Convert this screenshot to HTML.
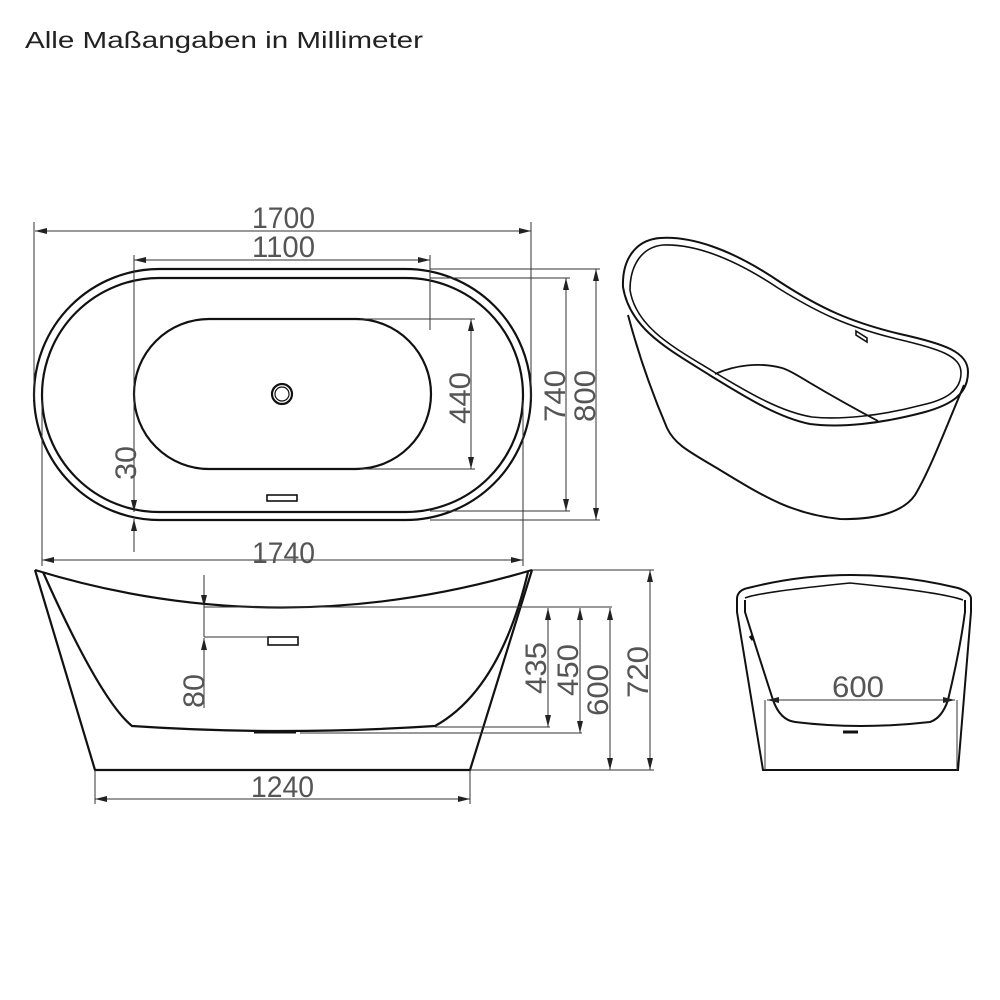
<!DOCTYPE html>
<html><head><meta charset="utf-8"><style>
html,body{margin:0;padding:0;background:#fff;}
svg{display:block;}
.d{font-family:"Liberation Sans Narrow","Liberation Sans",sans-serif;font-size:30px;fill:#555;}
</style></head><body>
<svg width="1000" height="1000" viewBox="0 0 1000 1000" xmlns="http://www.w3.org/2000/svg">
<defs>
<marker id="a" viewBox="0 0 12 6" refX="12" refY="3" markerWidth="12" markerHeight="6" markerUnits="userSpaceOnUse" orient="auto-start-reverse">
<path d="M0,0 L12,3 L0,6 Z" fill="#222"/></marker>
</defs>
<text x="25" y="48" font-family="Liberation Sans, sans-serif" font-size="23" fill="#222" textLength="398" lengthAdjust="spacingAndGlyphs">Alle Maßangaben in Millimeter</text>

<g fill="none" stroke="#111" stroke-width="2.2">
<rect x="34" y="269" width="497" height="251" rx="125.5" ry="125.5"/>
<rect x="42" y="278" width="481" height="234" rx="117" ry="117"/>
<rect x="134" y="319" width="297" height="150" rx="75" ry="75"/>
<circle cx="282" cy="394" r="10"/>
<circle cx="282" cy="394" r="7" stroke-width="1.2"/>
<rect x="267" y="495" width="30" height="6" stroke-width="1.6"/>
</g>
<g fill="none" stroke="#333" stroke-width="1">
<line x1="34" y1="222" x2="34" y2="400"/>
<line x1="531" y1="222" x2="531" y2="400"/>
<line x1="35" y1="231" x2="531" y2="231" marker-start="url(#a)" marker-end="url(#a)"/>
<line x1="134" y1="255" x2="134" y2="511"/>
<line x1="430" y1="255" x2="430" y2="330"/>
<line x1="134" y1="260" x2="430" y2="260" marker-start="url(#a)" marker-end="url(#a)"/>
<line x1="360" y1="319" x2="475" y2="319"/>
<line x1="360" y1="469" x2="475" y2="469"/>
<line x1="471" y1="319" x2="471" y2="469" marker-start="url(#a)" marker-end="url(#a)"/>
<line x1="430" y1="278" x2="570" y2="278"/>
<line x1="430" y1="511" x2="570" y2="511"/>
<line x1="566" y1="278" x2="566" y2="511" marker-start="url(#a)" marker-end="url(#a)"/>
<line x1="430" y1="269" x2="600" y2="269"/>
<line x1="430" y1="520" x2="600" y2="520"/>
<line x1="596" y1="269" x2="596" y2="520" marker-start="url(#a)" marker-end="url(#a)"/>
<line x1="134" y1="440" x2="134" y2="512" marker-end="url(#a)"/>
<line x1="134" y1="552" x2="134" y2="519" marker-end="url(#a)"/>
<line x1="42" y1="400" x2="42" y2="566"/>
<line x1="523" y1="400" x2="523" y2="566"/>
<line x1="42" y1="560" x2="523" y2="560" marker-start="url(#a)" marker-end="url(#a)"/>
</g>
<text class="d" x="252" y="228" textLength="63" lengthAdjust="spacingAndGlyphs">1700</text>
<text class="d" x="252" y="257" textLength="63" lengthAdjust="spacingAndGlyphs">1100</text>
<text class="d" x="252" y="563" textLength="63" lengthAdjust="spacingAndGlyphs">1740</text>
<text class="d" transform="translate(470,424) rotate(-90)" textLength="52" lengthAdjust="spacingAndGlyphs">440</text>
<text class="d" transform="translate(565,422) rotate(-90)" textLength="52" lengthAdjust="spacingAndGlyphs">740</text>
<text class="d" transform="translate(595,422) rotate(-90)" textLength="52" lengthAdjust="spacingAndGlyphs">800</text>
<text class="d" transform="translate(136,480) rotate(-90)" textLength="34" lengthAdjust="spacingAndGlyphs">30</text>

<g fill="none" stroke="#111" stroke-width="2.2">
<path d="M35,570 L95,770 L470,770 L532,570"/>
<path d="M35,570 Q280,645 532,570"/>
<path d="M43,572 Q100,700 132,726 Q280,736 435,726 Q500,690 528,572"/>
<path d="M254,732 L296,732" stroke-width="3"/>
<rect x="268" y="637" width="30" height="8" stroke-width="1.6"/>
</g>
<g fill="none" stroke="#333" stroke-width="1">
<line x1="204" y1="575" x2="204" y2="607" marker-end="url(#a)"/>
<line x1="204" y1="607" x2="612" y2="607"/>
<line x1="204" y1="637" x2="268" y2="637"/>
<line x1="204" y1="607" x2="204" y2="637"/>
<line x1="204" y1="708" x2="204" y2="638" marker-end="url(#a)"/>
<line x1="435" y1="727" x2="550" y2="727"/>
<line x1="300" y1="733" x2="582" y2="733"/>
<line x1="548" y1="608" x2="548" y2="727" marker-start="url(#a)" marker-end="url(#a)"/>
<line x1="580" y1="608" x2="580" y2="733" marker-start="url(#a)" marker-end="url(#a)"/>
<line x1="610" y1="608" x2="610" y2="770" marker-start="url(#a)" marker-end="url(#a)"/>
<line x1="532" y1="570" x2="654" y2="570"/>
<line x1="470" y1="770" x2="654" y2="770"/>
<line x1="650" y1="570" x2="650" y2="770" marker-start="url(#a)" marker-end="url(#a)"/>
<line x1="95" y1="770" x2="95" y2="804"/>
<line x1="470" y1="770" x2="470" y2="804"/>
<line x1="95" y1="799" x2="470" y2="799" marker-start="url(#a)" marker-end="url(#a)"/>
</g>
<text class="d" transform="translate(204,708) rotate(-90)" textLength="34" lengthAdjust="spacingAndGlyphs">80</text>
<text class="d" transform="translate(546,694) rotate(-90)" textLength="52" lengthAdjust="spacingAndGlyphs">435</text>
<text class="d" transform="translate(578,696) rotate(-90)" textLength="52" lengthAdjust="spacingAndGlyphs">450</text>
<text class="d" transform="translate(608,716) rotate(-90)" textLength="52" lengthAdjust="spacingAndGlyphs">600</text>
<text class="d" transform="translate(648,698) rotate(-90)" textLength="52" lengthAdjust="spacingAndGlyphs">720</text>
<text class="d" x="251" y="797" textLength="63" lengthAdjust="spacingAndGlyphs">1240</text>

<g fill="none" stroke="#111" stroke-width="2">
<path d="M623,287 C622,260 635,240 660,238 C690,236 730,248 780,282 C820,308 850,322 900,334 C945,344 968,352 968,372 C968,395 950,405 925,412 C880,424 840,428 810,424 C780,418 750,400 711,376 C670,350 630,330 623,287 Z"/>
<path d="M630,290 C630,265 642,247 663,245 C692,244 730,256 778,288 C818,313 848,327 897,339 C940,349 961,356 961,373 C961,391 945,400 922,405 C880,416 840,420 812,417 C782,412 752,395 714,372 C675,348 636,328 630,290 Z" stroke-width="1.6"/>
<path d="M628,315 C640,360 655,400 667,428 C675,445 690,452 720,470 C760,494 790,514 840,519 C880,520 905,510 915,495 C930,470 945,430 964,385"/>
<path d="M715,374 C735,365 760,362 782,368 C795,372 810,385 878,421" stroke-width="1.8"/>
<path d="M856,331 L867,338 L867,342 L856,335 Z" stroke-width="1.6"/>
</g>

<g fill="none" stroke="#111" stroke-width="2">
<path d="M737,598 Q738,590 748,588 Q850,562 958,588 Q970,592 971,598 L971,612"/>
<path d="M745,598 Q760,592 850,583 Q940,592 963,600" stroke-width="1.6"/>
<path d="M737,598 L737,612 L763,770 L958,770 L971,612"/>
<path d="M745,600 L745,612 Q760,660 773,700 Q780,720 795,722 Q860,730 930,722 Q942,718 948,700 Q960,650 965,612 L965,600"/>
<path d="M843,732 L858,732" stroke-width="3"/>
<path d="M750,636 L753,640" stroke-width="3"/>
</g>
<g fill="none" stroke="#333" stroke-width="1">
<line x1="765" y1="700" x2="765" y2="770"/>
<line x1="957" y1="700" x2="957" y2="770"/>
<line x1="767" y1="700" x2="955" y2="700" marker-start="url(#a)" marker-end="url(#a)"/>
</g>
<text class="d" x="832" y="697" textLength="52" lengthAdjust="spacingAndGlyphs">600</text>
</svg>
</body></html>
